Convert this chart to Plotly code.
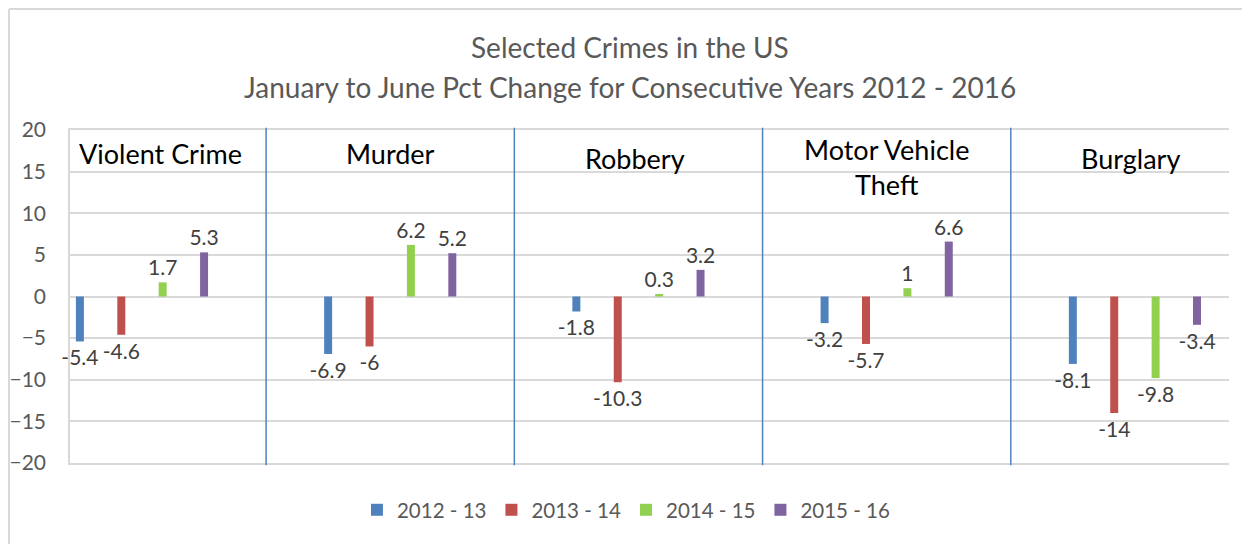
import plotly.graph_objects as go

categories = ["Violent Crime", "Murder", "Robbery", "Motor Vehicle<br>Theft", "Burglary"]
series_names = ["2012 - 13", "2013 - 14", "2014 - 15", "2015 - 16"]
v_2012_13 = [-5.4, -6.9, -1.8, -3.2, -8.1]
v_2013_14 = [-4.6, -6, -10.3, -5.7, -14]
v_2014_15 = [1.7, 6.2, 0.3, 1, -9.8]
v_2015_16 = [5.3, 5.2, 3.2, 6.6, -3.4]
colors = ["#4F81BD", "#C0504D", "#92D050", "#8064A2"]

FONT = "Lato"
fig = go.Figure()
xs = list(range(len(categories)))
for name, vals, col in zip(series_names, [v_2012_13, v_2013_14, v_2014_15, v_2015_16], colors):
    fig.add_trace(go.Bar(
        x=xs, y=vals, name=name, marker=dict(color=col, line=dict(width=0)),
        text=[str(v) for v in vals], textposition="outside", constraintext="none",
        cliponaxis=False, textfont=dict(family=FONT, size=21, color="#404040"),
        hoverinfo="y",
    ))

# page has an 8px body margin: plot area spans page x 70..1229, y 130..463
fig.update_layout(
    width=1242, height=536,
    margin=dict(l=62, r=21, t=122, b=81),
    paper_bgcolor="white", plot_bgcolor="white",
    barmode="group", bargap=0.333, bargroupgap=0.807,
    font=dict(family=FONT, color="#595959"),
    showlegend=True,
    legend=dict(orientation="h", xref="paper", x=0.4797, xanchor="center",
                y=-0.141, yanchor="middle", font=dict(family=FONT, size=20.5, color="#595959"),
                traceorder="normal"),
    xaxis=dict(range=[-0.29, 4.379], showticklabels=False, showgrid=False, zeroline=False,
               showline=True, linecolor="#D9D9D9", linewidth=1.5, mirror=True, ticks="",
               automargin=False),
    yaxis=dict(range=[-20, 20], dtick=5, showgrid=True, gridcolor="#D9D9D9", gridwidth=1.5,
               zeroline=True, zerolinecolor="#D9D9D9", zerolinewidth=1.5,
               showline=True, linecolor="#D9D9D9", linewidth=1.5,
               tickfont=dict(family=FONT, size=21, color="#595959"),
               ticklabelstandoff=18, automargin=False),
)

# title lines
fig.add_annotation(text="Selected Crimes in the US", xref="paper", yref="paper",
                   x=(630 - 70) / 1159, y=1.249, showarrow=False, xanchor="center", yanchor="middle",
                   font=dict(family=FONT, size=28, color="#595959"))
fig.add_annotation(text="January to June Pct Change for Consecutive Years 2012 - 2016", xref="paper", yref="paper",
                   x=(630 - 70) / 1159, y=1.129, showarrow=False, xanchor="center", yanchor="middle",
                   font=dict(family=FONT, size=28, color="#595959"))

# category labels inside the plot
label_y = [17.2, 17.2, 16.6, 15.5, 16.6]
label_shift = [19, 0, -3, 0, -4]
for i, (cat, ly, sh) in enumerate(zip(categories, label_y, label_shift)):
    fig.add_annotation(text=cat, x=i, y=ly, xref="x", yref="y", showarrow=False,
                       xanchor="center", yanchor="middle", xshift=sh,
                       font=dict(family=FONT, size=27, color="#000000"))

# separator lines between categories
for i in range(len(categories) - 1):
    fig.add_shape(type="line", xref="x", yref="paper", x0=i + 0.5, x1=i + 0.5,
                  y0=-0.007, y1=1.007, line=dict(color="#4F81BD", width=1.5))

# outer chart border (left and top edges visible)
fig.add_shape(type="line", xref="paper", yref="paper", x0=(9 - 70) / 1159, x1=(9 - 70) / 1159,
              y0=(463 - 9) / 333, y1=(463 - 560) / 333, line=dict(color="#D9D9D9", width=2))
fig.add_shape(type="line", xref="paper", yref="paper", x0=(9 - 70) / 1159, x1=(1260 - 70) / 1159,
              y0=(463 - 9) / 333, y1=(463 - 9) / 333, line=dict(color="#D9D9D9", width=2))

fig.write_html("out.html")
